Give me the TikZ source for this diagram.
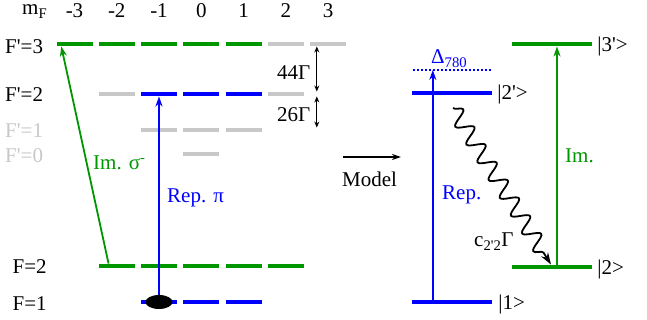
\documentclass[tikz,border=0pt]{standalone}
\usepackage{fontspec}
\setmainfont{Liberation Serif}
\usetikzlibrary{arrows.meta,shapes.geometric,decorations.pathmorphing}
\definecolor{lgreen}{RGB}{0,150,0}
\definecolor{lblue}{RGB}{0,0,255}
\definecolor{lgray}{RGB}{200,200,200}
\newcommand{\pr}{\textquotesingle}

\begin{document}
\begin{tikzpicture}[x=1pt,y=-1pt,font=\fontsize{21}{23}\selectfont]
  \tikzset{lv/.style={fill,minimum width=36pt,minimum height=4.5pt,inner sep=0pt},
    rl/.style={lv,minimum width=80pt},
    tx/.style={inner sep=0pt,anchor=base west},
    up/.style={-{Stealth[length=10pt,width=7pt]},line width=1.8pt},
    dd/.style={{Stealth[length=6pt,width=5pt]}-{Stealth[length=6pt,width=5pt]},line width=1.3pt}}
  \useasboundingbox (0,0) rectangle (647,320);
  % m_F row
  \node[tx] (mf) at (22,15) {m\textsubscript{F}};
  \foreach \i/\m in {1/-3,2/-2,3/-1,4/0,5/1,6/2,7/3}
    \node[inner sep=0pt,anchor=base] (m\i) at ({32.25+42.25*\i},18) {\m};
  % hyperfine levels
  \foreach \i/\c in {1/lgreen,2/lgreen,3/lgreen,4/lgreen,5/lgreen,6/lgray,7/lgray}
    \node[lv,\c] (a\i) at ({32.25+42.25*\i},44) {};
  \foreach \i/\c in {2/lgray,3/lblue,4/lblue,5/lblue,6/lgray}
    \node[lv,\c] (b\i) at ({32.25+42.25*\i},94) {};
  \foreach \i in {3,4,5}
    \node[lv,lgray] (c\i) at ({32.25+42.25*\i},130) {};
  \node[lv,lgray] (d4) at (201.25,154) {};
  \foreach \i in {2,...,6}
    \node[lv,lgreen] (g\i) at ({32.25+42.25*\i},266) {};
  \foreach \i in {3,4,5}
    \node[lv,lblue] (h\i) at ({32.25+42.25*\i},302) {};
  \node[tx] (lF3) at (5,54) {F\pr=3};
  \node[tx] (lF2) at (5,102) {F\pr=2};
  \node[tx,lgray] (lF1) at (5,138) {F\pr=1};
  \node[tx,lgray] (lF0) at (5,163) {F\pr=0};
  \node[tx] (lg) at (12.5,273) {F=2};
  \node[tx] (lh) at (12.5,310) {F=1};
  % lasers
  \draw[up,lgreen] ([xshift=10pt]g2.north west) -- ([xshift=5pt]a1.south west);
  \node[tx,lgreen] (im) at (93,170) {Im. σ\textsuperscript{-}};
  \draw[up,lblue] (h3.center) -- (b3.south);
  \node[fill,ellipse,minimum width=27pt,minimum height=14pt,inner sep=0pt] (atom) at (h3) {};
  \node[tx,lblue] (rp) at (167,203) {Rep. π};
  % splittings
  \coordinate (s0) at ([xshift=7pt]a7.south west);
  \draw[dd] (s0) -- (s0 |- b6.north);
  \draw[dd] (s0 |- b6.south) -- (s0 |- c5.north);
  \node[tx] (g44) at (277,80) {44Γ};
  \node[tx] (g26) at (277,122) {26Γ};
  % model
  \coordinate (ma) at (343,157);
  \coordinate (mb) at (401,157);
  \draw[-{Stealth[length=9pt,width=6pt]},line width=1.4pt] (ma) -- (mb);
  \node[tx] (mdl) at (342,187) {Model};
  \node[rl,lgreen] (r3) at (552,44) {};
  \node[rl,lblue] (r2p) at (452,93) {};
  \node[rl,lgreen] (r2) at (552,267) {};
  \node[rl,lblue] (r1) at (452,302) {};
  \coordinate (dl) at (413,70);
  \coordinate (dr) at (491,70);
  \draw[lblue,line width=1.8pt,dash pattern=on 2pt off 2pt] (dl) -- (dr);
  \node[tx,lblue] (dlt) at (431,64) {Δ\textsubscript{780}};
  \coordinate (rb) at ([xshift=21pt]r1.north west);
  \draw[up,lblue] (rb) -- (rb |- dl);
  \node[tx,lblue] (rep) at (442,200) {Rep.};
  \draw[up,lgreen] ([xshift=5pt]r2.north) -- ([xshift=5pt]r3.south);
  \node[tx,lgreen] (imr) at (565,163) {Im.};
  \coordinate (ws) at (453,108);
  \draw[decorate,decoration={snake,amplitude=8pt,segment length=21pt,post length=12pt},
    -{Stealth[length=12pt,width=8pt]},line width=1.8pt] (ws) -- ([xshift=-1pt]r2.north);
  \node[tx] (cg) at (474,247) {c\textsubscript{2\pr2}Γ};
  \node[tx] (k3) at ([xshift=5pt,yshift=-8pt]r3.east) {|3\pr>};
  \node[tx] (k2p) at ([xshift=5pt,yshift=-7pt]r2p.east) {|2\pr>};
  \node[tx] (k2) at ([xshift=5pt,yshift=-7pt]r2.east) {|2>};
  \node[tx] (k1) at ([xshift=6pt,yshift=-7pt]r1.east) {|1>};
\end{tikzpicture}
\end{document}
